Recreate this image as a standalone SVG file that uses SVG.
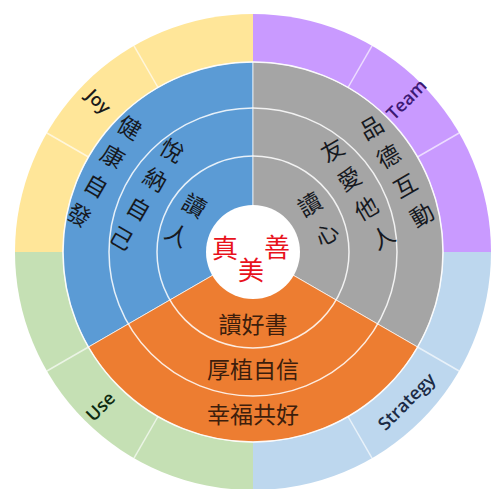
<svg xmlns="http://www.w3.org/2000/svg" width="495" height="489" viewBox="0 0 495 489">
  <style>
    .div { stroke: #ffffff; stroke-opacity: 0.65; stroke-width: 1.5; fill: none; }
    .ring { stroke: #ffffff; stroke-opacity: 0.85; stroke-width: 1.5; fill: none; }
    .sec { stroke: #ffffff; stroke-opacity: 0.7; stroke-width: 1; }
    .cjk { font-family: "Noto Sans CJK TC", "Noto Sans CJK SC", sans-serif; text-anchor: middle; dominant-baseline: central; }
    .col { font-size: 23px; fill: #16191f; }
    .row { font-size: 23px; fill: #3d1e0c; }
    .lab { font-family: "Open Sans", "Liberation Sans", sans-serif; text-anchor: middle; dominant-baseline: central; font-size: 18px; font-weight: 600; }
  </style>

  <g id="outer-ring">
    <g id="joy">
      <path d="M253,252 L15,252 A238,238 0 0 1 253,14 Z" fill="#FFE699"/>
      <text class="lab" transform="translate(99,101) rotate(45)" fill="#1a1a1a">Joy</text>
    </g>
    <g id="team">
      <path d="M253,252 L253,14 A238,238 0 0 1 491,252 Z" fill="#C99AFF"/>
      <text class="lab" transform="translate(406,99) rotate(-45)" fill="#3c1874" font-size="14">Team</text>
    </g>
    <g id="strategy">
      <path d="M253,252 L491,252 A238,238 0 0 1 253,490 Z" fill="#BDD7EE"/>
      <text class="lab" transform="translate(406,401) rotate(-45)" fill="#1c2b45">Strategy</text>
    </g>
    <g id="use">
      <path d="M253,252 L253,490 A238,238 0 0 1 15,252 Z" fill="#C5E0B4"/>
      <text class="lab" transform="translate(100,406) rotate(-45)" fill="#0d2a10">Use</text>
    </g>
  </g>

  <g id="dividers">
    <line class="div" x1="417.5" y1="347" x2="459.1" y2="371"/>
    <line class="div" x1="348" y1="416.5" x2="372" y2="458.1"/>
    <line class="div" x1="158" y1="416.5" x2="134" y2="458.1"/>
    <line class="div" x1="88.5" y1="347" x2="46.9" y2="371"/>
    <line class="div" x1="88.5" y1="157" x2="46.9" y2="133"/>
    <line class="div" x1="158" y1="87.5" x2="134" y2="45.9"/>
    <line class="div" x1="348" y1="87.5" x2="372" y2="45.9"/>
    <line class="div" x1="417.5" y1="157" x2="459.1" y2="133"/>
  </g>

  <g id="inner-pie">
    <g id="sector-blue">
      <path class="sec" d="M253,252 L88.46,347 A190,190 0 0 1 253,62 Z" fill="#5B9BD5"/>
    </g>
    <g id="sector-gray">
      <path class="sec" d="M253,252 L253,62 A190,190 0 0 1 417.54,347 Z" fill="#A5A5A5"/>
    </g>
    <g id="sector-orange">
      <path class="sec" d="M253,252 L417.54,347 A190,190 0 0 1 88.46,347 Z" fill="#ED7D31"/>
    </g>
    <circle class="ring" cx="253" cy="252" r="190"/>
    <circle class="ring" cx="253" cy="252" r="144"/>
    <circle class="ring" cx="253" cy="252" r="96"/>
  </g>

  <g id="blue-texts">
    <text class="cjk col" transform="translate(105,170) rotate(30)"><tspan x="0" y="-50.5">健</tspan><tspan x="0" y="-16.8">康</tspan><tspan x="0" y="16.8">自</tspan><tspan x="0" y="50.5">發</tspan></text>
    <text class="cjk col" transform="translate(147.5,193) rotate(30)"><tspan x="0" y="-50.5">悅</tspan><tspan x="0" y="-16.8">納</tspan><tspan x="0" y="16.8">自</tspan><tspan x="0" y="50.5">己</tspan></text>
    <text class="cjk col" transform="translate(186.5,219) rotate(30)"><tspan x="0" y="-17">讀</tspan><tspan x="0" y="17">人</tspan></text>
  </g>

  <g id="gray-texts">
    <text class="cjk col" transform="translate(396,170) rotate(-30)"><tspan x="0" y="-50.5">品</tspan><tspan x="0" y="-16.8">德</tspan><tspan x="0" y="16.8">互</tspan><tspan x="0" y="50.5">動</tspan></text>
    <text class="cjk col" transform="translate(357,192.5) rotate(-30)"><tspan x="0" y="-50.5">友</tspan><tspan x="0" y="-16.8">愛</tspan><tspan x="0" y="16.8">他</tspan><tspan x="0" y="50.5">人</tspan></text>
    <text class="cjk col" transform="translate(317.5,218) rotate(-30)"><tspan x="0" y="-17">讀</tspan><tspan x="0" y="17">心</tspan></text>
  </g>

  <g id="orange-texts">
    <text class="cjk row" x="253" y="323">讀好書</text>
    <text class="cjk row" x="253" y="368">厚植自信</text>
    <text class="cjk row" x="253" y="413">幸福共好</text>
  </g>

  <g id="center">
    <circle cx="253" cy="252" r="47" fill="#ffffff"/>
    <text class="cjk" font-size="26" fill="#E8121C"><tspan x="225" y="246">真</tspan><tspan x="251" y="268">美</tspan><tspan x="277" y="245">善</tspan></text>
  </g>
</svg>
